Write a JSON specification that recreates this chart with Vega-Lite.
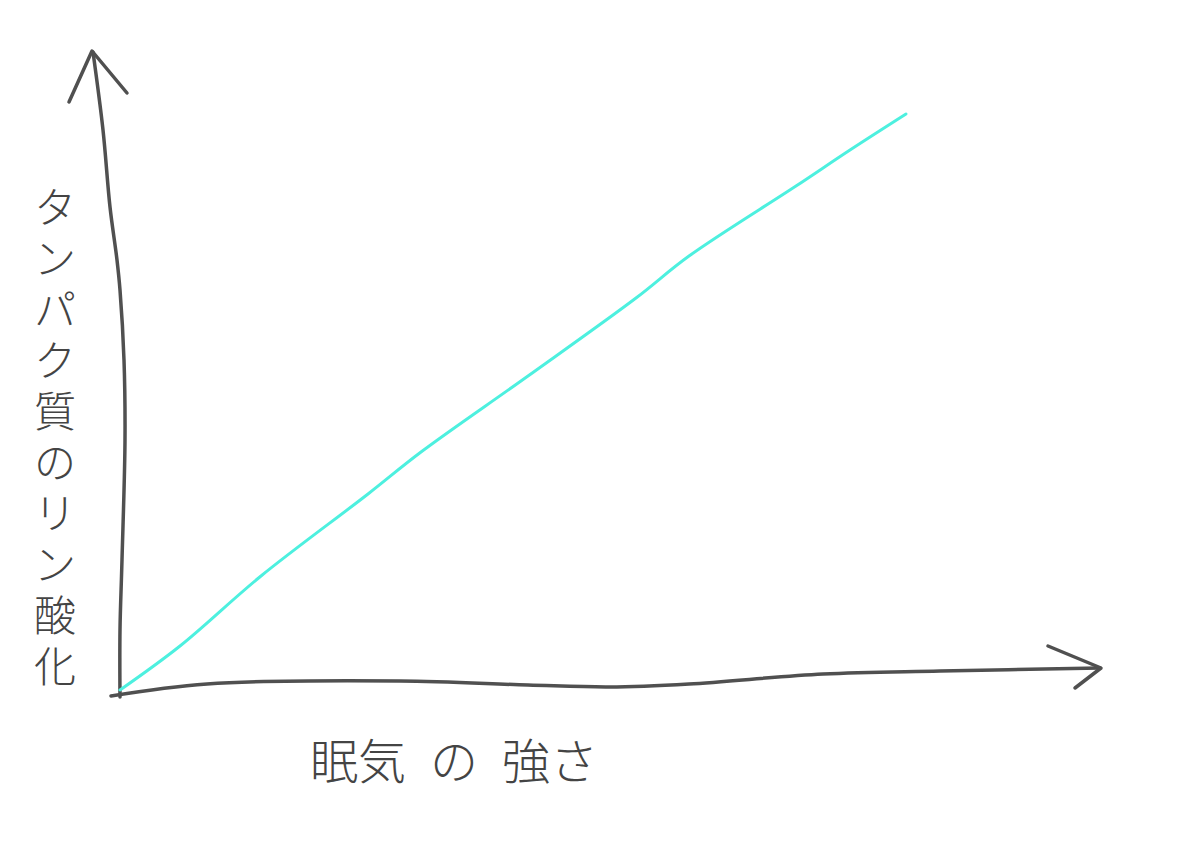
{
  "$schema": "https://vega.github.io/schema/vega-lite/v6.json",
  "width": 1200,
  "height": 848,
  "padding": 0,
  "autosize": {"type": "fit", "contains": "padding"},
  "background": "white",
  "config": {
    "view": {"stroke": null},
    "font": "Noto Sans CJK JP"
  },
  "datasets": {
    "axes": [
      {"part": "yaxis", "i": 0, "x": 0, "y": -7},
      {"part": "yaxis", "i": 1, "x": 0, "y": 60},
      {"part": "yaxis", "i": 2, "x": 2, "y": 130},
      {"part": "yaxis", "i": 3, "x": 5, "y": 250},
      {"part": "yaxis", "i": 4, "x": 4, "y": 330},
      {"part": "yaxis", "i": 5, "x": 0, "y": 400},
      {"part": "yaxis", "i": 6, "x": -3, "y": 430},
      {"part": "yaxis", "i": 7, "x": -10, "y": 483},
      {"part": "yaxis", "i": 8, "x": -17, "y": 560},
      {"part": "yaxis", "i": 9, "x": -27, "y": 638},
      {"part": "xaxis", "i": 0, "x": -9, "y": -6},
      {"part": "xaxis", "i": 1, "x": 87, "y": 6},
      {"part": "xaxis", "i": 2, "x": 280, "y": 9},
      {"part": "xaxis", "i": 3, "x": 408, "y": 5},
      {"part": "xaxis", "i": 4, "x": 489, "y": 3},
      {"part": "xaxis", "i": 5, "x": 569, "y": 6},
      {"part": "xaxis", "i": 6, "x": 703, "y": 16},
      {"part": "xaxis", "i": 7, "x": 820, "y": 19},
      {"part": "xaxis", "i": 8, "x": 980, "y": 22}
    ],
    "arrows": [
      {"part": "yarrow", "i": 0, "x": -51, "y": 588},
      {"part": "yarrow", "i": 1, "x": -28, "y": 639},
      {"part": "yarrow", "i": 2, "x": 7, "y": 597},
      {"part": "xarrow", "i": 0, "x": 928, "y": 44},
      {"part": "xarrow", "i": 1, "x": 981, "y": 22},
      {"part": "xarrow", "i": 2, "x": 955, "y": 2}
    ],
    "curve": [
      {"sleepiness": 0, "phospho": 0},
      {"sleepiness": 60, "phospho": 44},
      {"sleepiness": 141, "phospho": 114},
      {"sleepiness": 248, "phospho": 196},
      {"sleepiness": 301, "phospho": 238},
      {"sleepiness": 408, "phospho": 314},
      {"sleepiness": 516, "phospho": 392},
      {"sleepiness": 569, "phospho": 434},
      {"sleepiness": 676, "phospho": 504},
      {"sleepiness": 730, "phospho": 540},
      {"sleepiness": 786, "phospho": 576}
    ]
  },
  "layer": [
    {
      "data": {"name": "axes"},
      "mark": {"type": "line", "color": "#505050", "strokeWidth": 3.5, "strokeCap": "round", "strokeJoin": "round", "interpolate": "catmull-rom", "clip": false},
      "encoding": {
        "x": {"field": "x", "type": "quantitative", "axis": null, "scale": {"domain": [-120, 1080], "nice": false, "zero": false}},
        "y": {"field": "y", "type": "quantitative", "axis": null, "scale": {"domain": [-158, 690], "nice": false, "zero": false}},
        "detail": {"field": "part"},
        "order": {"field": "i"}
      }
    },
    {
      "data": {"name": "arrows"},
      "mark": {"type": "line", "color": "#505050", "strokeWidth": 3.5, "strokeCap": "round", "strokeJoin": "round", "interpolate": "linear", "clip": false},
      "encoding": {
        "x": {"field": "x", "type": "quantitative"},
        "y": {"field": "y", "type": "quantitative"},
        "detail": {"field": "part"},
        "order": {"field": "i"}
      }
    },
    {
      "data": {"name": "curve"},
      "mark": {"type": "line", "color": "#4DF0DF", "strokeWidth": 3, "strokeCap": "round", "interpolate": "catmull-rom", "clip": false},
      "encoding": {
        "x": {"field": "sleepiness", "type": "quantitative"},
        "y": {"field": "phospho", "type": "quantitative"}
      }
    },
    {
      "data": {"values": [{"label": "y"}]},
      "mark": {
        "type": "text",
        "text": ["タ", "ン", "パ", "ク", "質", "の", "リ", "ン", "酸", "化"],
        "fontSize": 42,
        "lineHeight": 51,
        "color": "#444444",
        "align": "center",
        "baseline": "middle",
        "fontWeight": 300
      },
      "encoding": {
        "x": {"datum": -65},
        "y": {"datum": 480}
      }
    },
    {
      "data": {"values": [{"label": "x"}]},
      "mark": {
        "type": "text",
        "text": "眠気\u2002の\u2002強さ",
        "fontSize": 48,
        "color": "#444444",
        "align": "left",
        "baseline": "middle",
        "fontWeight": 300
      },
      "encoding": {
        "x": {"datum": 190},
        "y": {"datum": -75}
      }
    }
  ]
}
